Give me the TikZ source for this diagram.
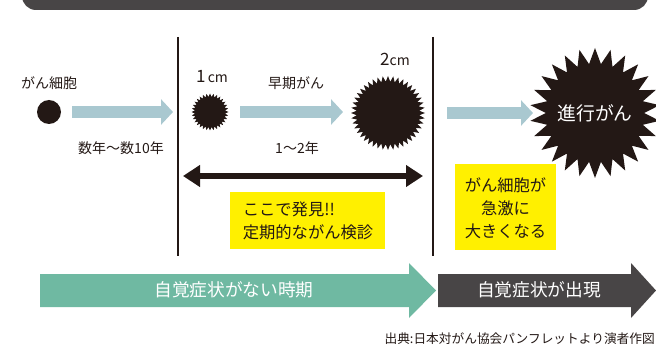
\documentclass[tikz,border=0pt]{standalone}
\usepackage{fontspec}
\setmainfont{Noto Sans CJK JP}
\usetikzlibrary{shapes.geometric,arrows.meta}
\definecolor{ink}{RGB}{35,24,21}
\definecolor{darkbar}{RGB}{72,69,70}
\definecolor{paleblue}{RGB}{169,200,208}
\definecolor{mint}{RGB}{111,185,162}
\definecolor{hiyellow}{RGB}{255,240,0}
\tikzset{
  lbl/.style={text=ink, inner sep=0pt, font=\fontsize{14pt}{16pt}\selectfont},
  boxtxt/.style={text=ink, inner sep=0pt, font=\fontsize{16.3pt}{23pt}\selectfont},
  whitetxt/.style={text=white, inner sep=0pt, font=\fontsize{17.7pt}{20pt}\selectfont},
  src/.style={text=ink, inner sep=0pt, font=\fontsize{12.7pt}{14pt}\selectfont},
  tumor/.style={star, fill=ink, draw=none, inner sep=0pt},
  flow/.style={paleblue, line width=12pt, -{Triangle[length=12pt,width=25pt]}},
  span/.style={ink, line width=5.5pt, {Triangle[length=17pt,width=21pt]}-{Triangle[length=17pt,width=21pt]}},
  divider/.style={ink, line width=1.5pt},
  note/.style={fill=hiyellow, draw=none}
}
\begin{document}
\begin{tikzpicture}[x=1pt,y=-1pt]
\useasboundingbox (0,0) rectangle (656,350);
% top bar
\fill[darkbar, rounded corners=14pt] (22,-30) rectangle (648,10);
% dividers
\coordinate (d1t) at (178,37); \coordinate (d1b) at (178,256);
\coordinate (d2t) at (433,37); \coordinate (d2b) at (433,256);
\draw[divider] (d1t) -- (d1b);
\draw[divider] (d2t) -- (d2b);
% yellow notes
\fill[note] (230,192) rectangle (385,249);
\fill[note] (455,164) rectangle (556,250);
\node[boxtxt, align=left] (n1) at (308,221) {ここで発見!!\\定期的ながん検診};
\node[boxtxt, align=center] (n2) at (505.5,208.5) {がん細胞が\\急激に\\大きくなる};
% cells
\node[circle, fill=ink, minimum size=24pt, inner sep=0pt] (cell) at (49,112) {};
\node[tumor, star points=32, star point ratio=1.22, minimum size=37pt] (t1) at (210,112) {};
\node[tumor, star points=44, star point ratio=1.18, minimum size=74pt] (t2) at (388,113) {};
\node[tumor, star points=26, star point ratio=1.32, minimum size=130pt] (t3) at (595,113) {};
\node[whitetxt, font=\fontsize{18.8pt}{20pt}\selectfont] at (t3) {進行がん};
% labels
\node[lbl] (l0) at (49,83) {がん細胞};
\node[lbl] (l1) at (121,148) {数年〜数10年};
\node[lbl] (l2) at (212,77) {{\fontsize{17pt}{18pt}\selectfont 1}\,cm};
\node[lbl] (l3) at (296,83) {早期がん};
\node[lbl] (l4) at (297,148) {1〜2年};
\node[lbl] (l5) at (395,59) {{\fontsize{17pt}{18pt}\selectfont 2}cm};
% flow arrows
\coordinate (a1s) at (72,112); \coordinate (a1e) at (173,112);
\coordinate (a2s) at (240,112); \coordinate (a2e) at (343,112);
\coordinate (a3s) at (447,113); \coordinate (a3e) at (533,113);
\draw[flow] (a1s) -- (a1e);
\draw[flow] (a2s) -- (a2e);
\draw[flow] (a3s) -- (a3e);
% span arrow
\coordinate (sl) at (183,176); \coordinate (sr) at (423,176);
\draw[span] (sl) -- (sr);
% bottom arrows
\fill[mint] (40,274) -- (409,274) -- (409,263) -- (436,290.5) -- (409,318) -- (409,307) -- (40,307) -- cycle;
\fill[darkbar] (438,274) -- (631,274) -- (631,263) -- (656,290.5) -- (631,318) -- (631,307) -- (438,307) -- cycle;
\node[whitetxt] (b1) at (234,290) {自覚症状がない時期};
\node[whitetxt] (b2) at (539,290) {自覚症状が出現};
% source
\node[src, anchor=east] (s) at (655,339) {出典:日本対がん協会パンフレットより演者作図};
\end{tikzpicture}
\end{document}
